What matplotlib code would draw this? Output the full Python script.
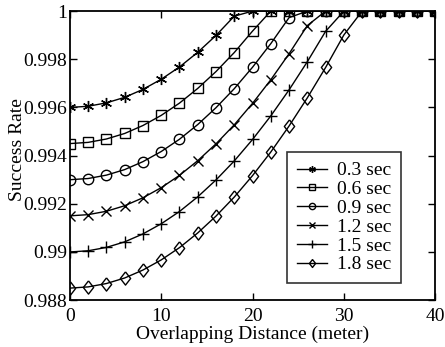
import matplotlib.pyplot as plt

plt.rcParams['font.family'] = ['Liberation Serif', 'DejaVu Serif']

# distances (meter)
dist = [0, 2, 4, 6, 8, 10, 12, 14, 16, 18, 20, 22, 24, 26, 28, 30, 32, 34, 36, 38, 40]

# success rate for each handoff time
s03 = [0.99600, 0.99605, 0.99619, 0.99642, 0.99675, 0.99717, 0.99768, 0.99829, 0.99899, 0.99979,
       1, 1, 1, 1, 1, 1, 1, 1, 1, 1, 1]
s06 = [0.99450, 0.99455, 0.99469, 0.99492, 0.99525, 0.99567, 0.99618, 0.99679, 0.99749, 0.99828,
       0.99917, 1, 1, 1, 1, 1, 1, 1, 1, 1, 1]
s09 = [0.99300, 0.99305, 0.99319, 0.99342, 0.99375, 0.99417, 0.99468, 0.99529, 0.99599, 0.99678,
       0.99767, 0.99865, 0.99973, 1, 1, 1, 1, 1, 1, 1, 1]
s12 = [0.99150, 0.99155, 0.99169, 0.99192, 0.99225, 0.99267, 0.99318, 0.99379, 0.99449, 0.99528,
       0.99617, 0.99715, 0.99823, 0.99940, 1, 1, 1, 1, 1, 1, 1]
s15 = [0.99000, 0.99005, 0.99019, 0.99042, 0.99075, 0.99117, 0.99168, 0.99229, 0.99299, 0.99378,
       0.99467, 0.99565, 0.99673, 0.99790, 0.99916, 1, 1, 1, 1, 1, 1]
s18 = [0.98850, 0.98855, 0.98869, 0.98892, 0.98925, 0.98967, 0.99018, 0.99079, 0.99149, 0.99228,
       0.99317, 0.99415, 0.99523, 0.99640, 0.99766, 0.99901, 1, 1, 1, 1, 1]

labels = ['0.3 sec', '0.6 sec', '0.9 sec', '1.2 sec', '1.5 sec', '1.8 sec']
yticks = [0.988, 0.99, 0.992, 0.994, 0.996, 0.998, 1]
ytick_labels = ['0.988', '0.99', '0.992', '0.994', '0.996', '0.998', '1']

fig = plt.figure(figsize=(4.45, 3.47), dpi=100)
ax = fig.add_axes([0.157, 0.135, 0.821, 0.833])

asterisk = (6, 2, 0)
diamond = [(0, 1), (0.78, 0), (0, -1), (-0.78, 0), (0, 1)]
markers = [asterisk, 's', 'o', 'x', '+', diamond]
sizes = [8, 6.5, 7.5, 7, 9, 9.5]
for ys, lab, m, ms in zip([s03, s06, s09, s12, s15, s18], labels, markers, sizes):
    ax.plot(dist, ys, color='black', lw=1.0, marker=m, ms=ms,
            mfc='none', mec='black', mew=1.0, label=lab)

ax.set_xlim(0, 40)
ax.set_ylim(0.988, 1)
ax.set_xticks([0, 10, 20, 30, 40])
ax.set_yticks(yticks)
ax.set_yticklabels(ytick_labels)
ax.tick_params(direction='in', length=5, width=1, labelsize=14,
               top=True, right=True)
ax.tick_params(axis='x', pad=6)
ax.tick_params(axis='y', pad=2)
for sp in ax.spines.values():
    sp.set_linewidth(1.3)

ax.set_xlabel('Overlapping Distance (meter)', fontsize=14, labelpad=0)
ax.set_ylabel('Success Rate', fontsize=14)
ax.yaxis.set_label_coords(-0.12, 0.52)

leg = ax.legend(loc='lower right', bbox_to_anchor=(0.907, 0.059), borderaxespad=0,
                fontsize=14, frameon=True, fancybox=False, edgecolor='black',
                handlelength=1.55, handletextpad=0.5, borderpad=0.5,
                labelspacing=0.06, markerscale=0.6)
leg.get_frame().set_linewidth(1.2)

fig.savefig('out.png', dpi=100)
